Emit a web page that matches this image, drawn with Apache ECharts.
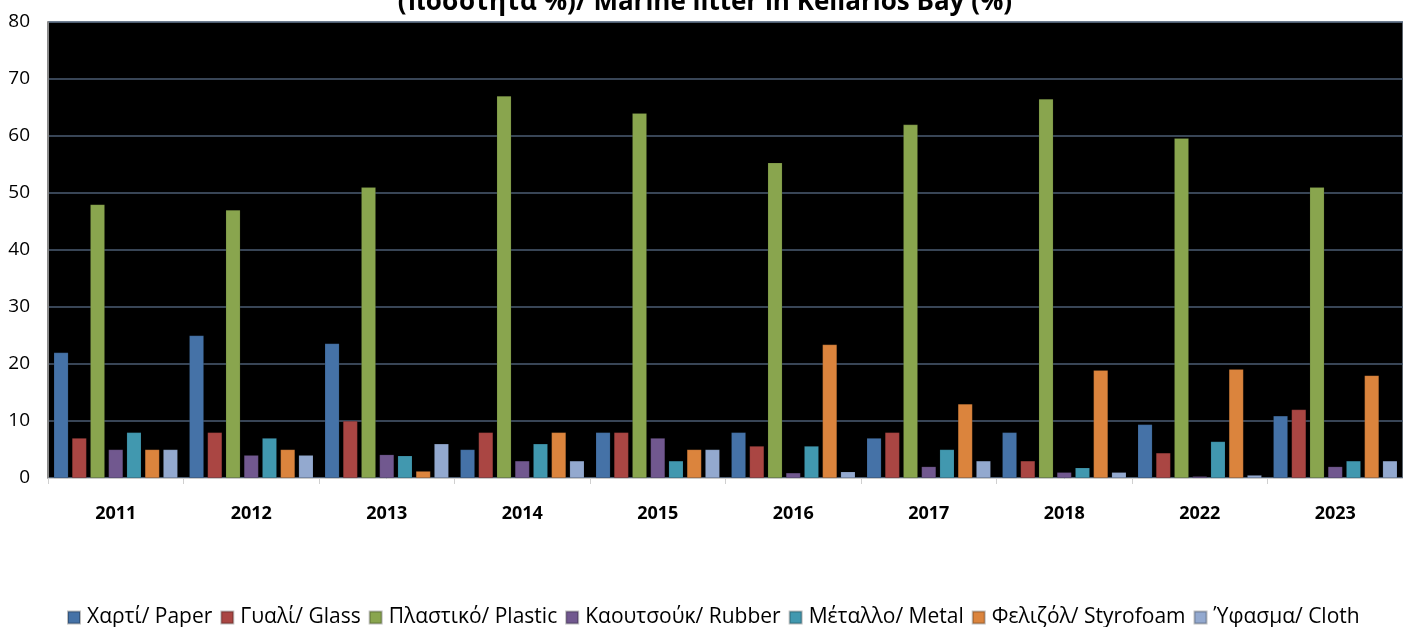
<!DOCTYPE html>
<html>
<head>
<meta charset="utf-8">
<script src="https://cdn.jsdelivr.net/npm/echarts@6/dist/echarts.min.js"></script>
<style>
html,body{margin:0;padding:0;background:#fff;}
#c{width:1403px;height:627px;}
</style>
</head>
<body>
<div id="c"></div>
<script>
const years = ['2011','2012','2013','2014','2015','2016','2017','2018','2022','2023'];
const seriesNames = ['Χαρτί/ Paper','Γυαλί/ Glass','Πλαστικό/ Plastic','Καουτσούκ/ Rubber','Μέταλλο/ Metal','Φελιζόλ/ Styrofoam','Ύφασμα/ Cloth'];
const paper     = [22, 25, 23.6, 5, 8, 8, 7, 8, 9.4, 10.9];
const glass     = [7, 8, 10, 8, 8, 5.6, 8, 3, 4.4, 12];
const plastic   = [48, 47, 51, 67, 64, 55.3, 62, 66.5, 59.6, 51];
const rubber    = [5, 4, 4.1, 3, 7, 0.9, 2, 1, 0.3, 2];
const metal     = [8, 7, 3.9, 6, 3, 5.6, 5, 1.8, 6.4, 3];
const styrofoam = [5, 5, 1.2, 8, 5, 23.4, 13, 18.9, 19.1, 18];
const cloth     = [5, 4, 6, 3, 5, 1.1, 3, 1, 0.5, 3];
const yTicks = [0, 10, 20, 30, 40, 50, 60, 70, 80];
const titleText = '(ποσότητα %)/ Marine litter in Kellarios Bay (%)';

const allData = [paper, glass, plastic, rubber, metal, styrofoam, cloth];
const colors = ['#4572A7','#AA4643','#89A54E','#71588F','#4198AF','#DB843D','#93A9CF'];
const FONT = "'Open Sans', sans-serif";

const chart = echarts.init(document.getElementById('c'), null, {renderer:'canvas'});
chart.setOption({
  animation: false,
  color: colors,
  textStyle: { fontFamily: FONT },
  title: {
    text: titleText,
    left: 705,
    textAlign: 'center',
    top: -10,
    padding: 0,
    textStyle: { fontSize: 26, fontWeight: 'bold', color: '#000', fontFamily: FONT }
  },
  legend: {
    data: seriesNames,
    bottom: -6,
    left: 62,
    icon: 'rect',
    itemWidth: 12,
    itemHeight: 12,
    itemGap: 8,
    textStyle: { fontSize: 21, color: '#000', fontFamily: FONT, padding: [0,0,0,2] }
  },
  grid: { left: 48, right: 0, top: 22, bottom: 149, show: true, backgroundColor: '#000', borderColor: '#b9c9da', borderWidth: 1 },
  xAxis: {
    type: 'category',
    data: years,
    axisLine: { show: true, lineStyle: { color: '#d0d0d0', width: 1 } },
    axisTick: { show: true, length: 6, lineStyle: { color: '#d0d0d0' } },
    axisLabel: { fontSize: 18, fontWeight: 'bold', color: '#000', margin: 27, fontFamily: FONT }
  },
  yAxis: {
    type: 'value',
    min: 0, max: 80, interval: 10,
    axisLine: { show: true, lineStyle: { color: '#8a8a8a', width: 2 } },
    axisTick: { show: false },
    splitLine: { show: true, lineStyle: { color: '#4b5d73', width: 1.5 } },
    axisLabel: {
      fontSize: 19, color: '#000', margin: 18, fontFamily: FONT,
      formatter: v => yTicks.includes(v) ? String(v) : ''
    }
  },
  series: seriesNames.map((n, i) => ({
    name: n,
    type: 'bar',
    data: allData[i],
    barGap: '25%',
    barCategoryGap: '8.5%',
    itemStyle: { color: colors[i], borderColor: 'rgba(0,0,0,0.25)', borderWidth: 0.5 }
  }))
});
</script>
</body>
</html>
